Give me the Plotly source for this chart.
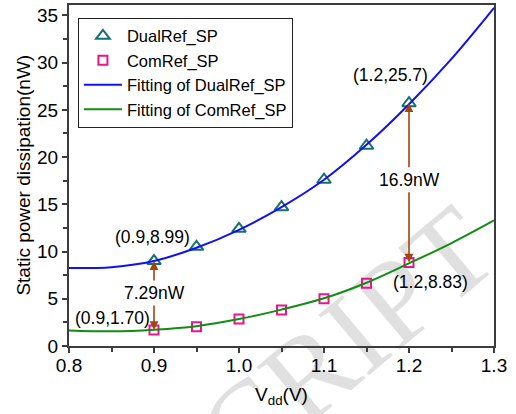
import plotly.graph_objects as go

# ---- data ----
vdd = [0.9, 0.95, 1.0, 1.05, 1.1, 1.15, 1.2]
dualref_sp = [8.99, 10.5, 12.4, 14.7, 17.6, 21.2, 25.7]
comref_sp = [1.70, 2.05, 2.86, 3.82, 5.0, 6.65, 8.83]

fit_vdd = [0.8, 0.85, 0.9, 0.95, 1.0, 1.05, 1.1, 1.15, 1.2, 1.25, 1.3]
fit_dualref = [8.25, 8.35, 9.0, 10.4, 12.3, 14.7, 17.6, 21.3, 25.6, 30.4, 35.8]
fit_comref = [1.65, 1.55, 1.72, 2.1, 2.85, 3.85, 5.05, 6.7, 8.75, 10.9, 13.3]

x_ticks = [0.8, 0.9, 1.0, 1.1, 1.2, 1.3]
y_ticks = [0, 5, 10, 15, 20, 25, 30, 35]

FONT = "Liberation Sans, Arial, sans-serif"
TEAL = "#17706F"
MAGENTA = "#E8168C"
BLUE = "#1010F5"
GREEN = "#128C12"
BROWN = "#A3450C"
AXIS = "#3c3c3c"

fig = go.Figure()

fig.add_trace(go.Scatter(
    x=vdd, y=dualref_sp, mode="markers", name="DualRef_SP",
    marker=dict(symbol="triangle-up-open", size=12, color=TEAL, line=dict(width=2, color=TEAL)),
))
fig.add_trace(go.Scatter(
    x=vdd, y=comref_sp, mode="markers", name="ComRef_SP",
    marker=dict(symbol="square-open", size=9, color=MAGENTA, line=dict(width=2, color=MAGENTA)),
))
fig.add_trace(go.Scatter(
    x=fit_vdd, y=fit_dualref, mode="lines", name="Fitting of DualRef_SP",
    line=dict(color=BLUE, width=2, shape="spline", smoothing=1.0),
))
fig.add_trace(go.Scatter(
    x=fit_vdd, y=fit_comref, mode="lines", name="Fitting of ComRef_SP",
    line=dict(color=GREEN, width=2, shape="spline", smoothing=1.0),
))

ann_font = dict(family=FONT, size=17.5, color="black")
annotations = [
    dict(x=0.898, y=11.56, text="(0.9,8.99)", showarrow=False, font=ann_font),
    dict(x=0.851, y=2.97, text="(0.9,1.70)", showarrow=False, font=ann_font),
    dict(x=1.178, y=28.74, text="(1.2,25.7)", showarrow=False, font=ann_font),
    dict(x=1.225, y=6.79, text="(1.2,8.83)", showarrow=False, font=ann_font),
    # y-axis title
    dict(xref="paper", yref="paper", x=-0.108, y=0.5, xanchor="center", yanchor="middle",
         text="Static power dissipation(nW)", textangle=-90, showarrow=False,
         font=dict(family=FONT, size=19, color="black")),
]
# double arrows with label in the middle
for xv, top, bot, mid, label in [(vdd[0], dualref_sp[0], comref_sp[0], 5.6, "7.29nW"),
                                 (vdd[-1], dualref_sp[-1], comref_sp[-1], 17.6, "16.9nW")]:
    annotations.append(dict(x=xv, y=top, ax=xv, ay=mid, axref="x", ayref="y",
                            text=label, font=ann_font, showarrow=True, arrowhead=2,
                            arrowsize=1.1, arrowwidth=1.6, arrowcolor=BROWN, standoff=0,
                            borderpad=2))
    annotations.append(dict(x=xv, y=bot, ax=xv, ay=mid, axref="x", ayref="y",
                            text=label, font=dict(family=FONT, size=17.5, color="rgba(0,0,0,0)"),
                            showarrow=True, arrowhead=2,
                            arrowsize=1.1, arrowwidth=1.6, arrowcolor=BROWN, standoff=0,
                            borderpad=2))

fig.update_layout(
    width=516, height=414,
    margin=dict(l=69, r=22, t=5, b=68),
    paper_bgcolor="white", plot_bgcolor="white",
    font=dict(family=FONT, size=19, color="black"),
    showlegend=True,
    legend=dict(x=0.021, y=0.963, xanchor="left", yanchor="top",
                bgcolor="white", bordercolor="#222", borderwidth=1,
                font=dict(family=FONT, size=16.5), itemwidth=38,
                tracegroupgap=0),
    annotations=annotations,
    shapes=[dict(type="rect", xref="paper", yref="paper",
                 x0=0.625, x1=0.645, y0=0.035, y1=0.055, layer="below",
                 line=dict(width=0), fillcolor="rgba(0,0,0,0)",
                 label=dict(text="CRIPT", textangle=-40, textposition="middle center",
                            font=dict(family="Liberation Serif, serif", size=120,
                                      color="rgb(224,224,224)")))],
)

fig.update_xaxes(
    range=[0.8, 1.3], tickvals=x_ticks, ticktext=[f"{v:.1f}" for v in x_ticks],
    ticks="outside", ticklen=5, tickwidth=1.5, tickcolor=AXIS,
    minor=dict(ticks="outside", ticklen=4, tickwidth=1.5, tickcolor=AXIS, dtick=0.05, showgrid=False),
    showline=True, linecolor=AXIS, linewidth=2, mirror=True,
    showgrid=False, zeroline=False, automargin=False,
    tickfont=dict(family=FONT, size=19), ticklabelstandoff=-4,
    title=dict(text="V<sub>dd</sub>(V)", font=dict(family=FONT, size=19), standoff=13),
)
fig.update_yaxes(
    range=[0, 36.1], tickvals=y_ticks,
    ticks="outside", ticklen=5, tickwidth=1.5, tickcolor=AXIS,
    minor=dict(ticks="outside", ticklen=4, tickwidth=1.5, tickcolor=AXIS, dtick=2.5, showgrid=False),
    showline=True, linecolor=AXIS, linewidth=2, mirror=True,
    showgrid=False, zeroline=False, automargin=False,
    tickfont=dict(family=FONT, size=19),
)

fig.write_html("out.html", config={"displayModeBar": False},
               post_script="document.body.style.margin='0';")
